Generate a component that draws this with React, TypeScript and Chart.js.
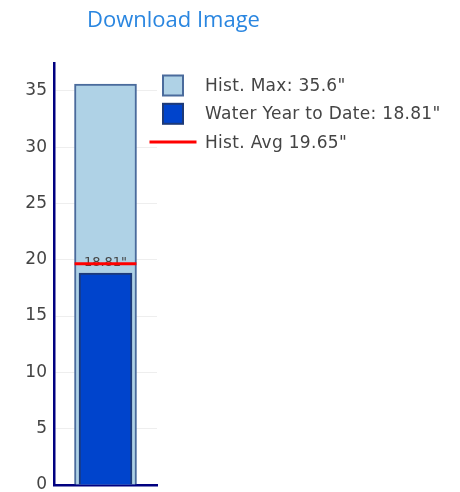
import React, { useEffect, useRef } from "react";
import { Chart, registerables } from "chart.js";

Chart.register(...registerables);

// ---- Data ----
const BAR_X = [0];
const HIST_MAX = [35.6];
const WATER_YEAR_TO_DATE = [18.81];
const HIST_AVG = [19.65];
const AVG_LINE_X = [-0.45, 0.45];
const Y_MIN = 0;
const Y_MAX = 37.47;
const Y_STEP = 5;
const X_RANGE = [-0.5, 0.5];

const LABEL_MAX = `Hist. Max: ${HIST_MAX[0]}"`;
const LABEL_WYTD = `Water Year to Date: ${WATER_YEAR_TO_DATE[0]}"`;
const LABEL_AVG = `Hist. Avg ${HIST_AVG[0]}"`;

const FONT = "'DejaVu Sans', Verdana, sans-serif";
const TEXT_COLOR = "#444444";
const AXIS_COLOR = "#000080";

const barLabelPlugin = {
  id: "barLabel",
  afterDatasetDraw(chart: any, args: any) {
    if (args.index !== 1) return;
    const meta = chart.getDatasetMeta(1);
    const ctx = chart.ctx;
    ctx.save();
    ctx.font = `13px ${FONT}`;
    ctx.fillStyle = TEXT_COLOR;
    ctx.textAlign = "center";
    ctx.textBaseline = "alphabetic";
    meta.data.forEach((el: any, i: number) => {
      const v = chart.data.datasets[1].data[i].y;
      ctx.fillText(`${v}"`, el.x, el.y - 7);
    });
    ctx.restore();
  },
};

const legendPlugin = {
  id: "customLegend",
  afterDraw(chart: any) {
    const { ctx, chartArea } = chart;
    const cx = chartArea.right + 16;
    const tx = chartArea.right + 48;
    let y = chartArea.top + 22.5;
    ctx.save();
    ctx.font = `17px ${FONT}`;
    try {
      (ctx as any).letterSpacing = "0.3px";
    } catch (e) {}
    ctx.textBaseline = "middle";
    ctx.textAlign = "left";
    chart.data.datasets.forEach((ds: any) => {
      if (ds.type === "line") {
        ctx.strokeStyle = ds.borderColor;
        ctx.lineWidth = ds.borderWidth;
        ctx.beginPath();
        ctx.moveTo(cx - 23.5, y);
        ctx.lineTo(cx + 23.5, y);
        ctx.stroke();
      } else {
        ctx.fillStyle = ds.backgroundColor;
        ctx.fillRect(cx - 10, y - 10, 20, 20);
        ctx.strokeStyle = ds.borderColor;
        ctx.lineWidth = 2;
        ctx.strokeRect(cx - 10, y - 10, 20, 20);
      }
      ctx.fillStyle = TEXT_COLOR;
      ctx.fillText(ds.label, tx, y + 1);
      y += 28.3;
    });
    ctx.restore();
  },
};

export default function App() {
  const canvasRef = useRef<HTMLCanvasElement | null>(null);

  useEffect(() => {
    if (!canvasRef.current) return;
    const chart = new Chart(canvasRef.current, {
      type: "bar",
      data: {
        datasets: [
          {
            type: "bar",
            label: LABEL_MAX,
            data: BAR_X.map((x, i) => ({ x, y: HIST_MAX[i] })),
            backgroundColor: "#afd2e6",
            borderColor: "#4a6b9c",
            borderWidth: 2,
            barThickness: 62,
            grouped: false,
            order: 3,
          } as any,
          {
            type: "bar",
            label: LABEL_WYTD,
            data: BAR_X.map((x, i) => ({ x, y: WATER_YEAR_TO_DATE[i] })),
            backgroundColor: "#0044cc",
            borderColor: "#1d3a78",
            borderWidth: 2,
            barThickness: 53,
            grouped: false,
            order: 2,
          } as any,
          {
            type: "line",
            label: LABEL_AVG,
            data: AVG_LINE_X.map((x) => ({ x, y: HIST_AVG[0] })),
            borderColor: "#ff0000",
            borderWidth: 3,
            pointRadius: 0,
            fill: false,
            order: 1,
          } as any,
        ],
      },
      options: {
        responsive: false,
        animation: false,
        devicePixelRatio: 1,
        layout: { padding: { left: 0, right: 303, top: 63, bottom: 7 } },
        plugins: {
          legend: { display: false },
          tooltip: { enabled: false },
          title: { display: false },
        },
        scales: {
          x: {
            type: "linear",
            min: X_RANGE[0],
            max: X_RANGE[1],
            ticks: { display: false },
            grid: { display: false, drawTicks: false },
            border: { display: true, color: AXIS_COLOR, width: 2.5 },
            afterFit: (s: any) => {
              s.height = 0;
              s.paddingLeft = 0;
              s.paddingRight = 0;
            },
          },
          y: {
            type: "linear",
            min: Y_MIN,
            max: Y_MAX,
            bounds: "data",
            ticks: {
              stepSize: Y_STEP,
              includeBounds: false,
              padding: 7,
              color: TEXT_COLOR,
              font: { family: FONT, size: 17 },
            },
            grid: { color: "#eeeeee", lineWidth: 1, drawTicks: false },
            border: { display: true, color: AXIS_COLOR, width: 2.5 },
            afterFit: (s: any) => {
              s.width = 54;
              s.paddingTop = 0;
              s.paddingBottom = 0;
            },
          },
        },
      } as any,
      plugins: [barLabelPlugin, legendPlugin],
    });
    return () => chart.destroy();
  }, []);

  return (
    <div style={{ position: "absolute", left: 0, top: 0, width: 460, height: 492 }}>
      <canvas
        ref={canvasRef}
        width={460}
        height={492}
        style={{ position: "absolute", left: 0, top: 0, width: 460, height: 492 }}
      />
      <div
        style={{
          position: "absolute",
          left: 87,
          top: 7,
          fontFamily: "'Open Sans', sans-serif",
          fontSize: 22,
          lineHeight: "22px",
          color: "#2a86e0",
          whiteSpace: "nowrap",
        }}
      >
        Download Image
      </div>
    </div>
  );
}
